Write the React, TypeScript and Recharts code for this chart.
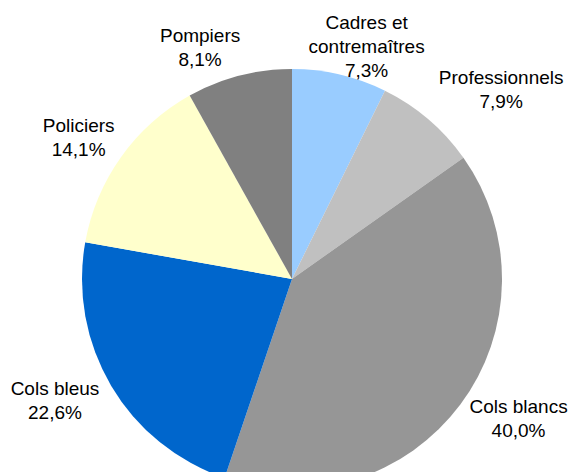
import React from "react";
import { PieChart, Pie, Cell } from "recharts";

// Répartition des effectifs (%)
const categories = [
  "Cadres et\ncontremaîtres",
  "Professionnels",
  "Cols blancs",
  "Cols bleus",
  "Policiers",
  "Pompiers",
];
const shares = [7.3, 7.9, 40.0, 22.6, 14.1, 8.1];
const colors = ["#99CCFF", "#C0C0C0", "#969696", "#0066CC", "#FFFFCC", "#808080"];

// small hand tweaks so labels sit like the original
const labelNudge: Record<string, [number, number]> = {
  "Cadres et\ncontremaîtres": [-3.5, 15],
  Professionnels: [-0.7, -5.3],
  "Cols blancs": [-3.6, -5.8],
  "Cols bleus": [1.8, -2.7],
  Policiers: [10.5, -1.4],
  Pompiers: [-17, 3],
};

const data = categories.map((name, i) => ({ name, value: shares[i] }));

const FONT = 19;
const LINE = 24;
const CAP = 13.6;

const renderLabel = (props: any) => {
  const { cx, cy, midAngle, outerRadius, name, value } = props;
  const rad = (midAngle * Math.PI) / 180;
  const ux = Math.cos(rad);
  const uy = -Math.sin(rad);
  const lines = [...String(name).split("\n"), value.toFixed(1).replace(".", ",") + "%"];
  const w = Math.max(...lines.map((l) => l.length)) * 9.2;
  const h = CAP + LINE * (lines.length - 1);
  const [nx, ny] = labelNudge[name] || [0, 0];
  const x = cx + ux * (outerRadius + 14) + (w / 2) * Math.max(-1, Math.min(1, ux * 2)) + nx;
  const yc = cy + uy * (outerRadius + 14) + (h / 2) * uy + ny;
  const y0 = yc - h / 2 + CAP;
  return (
    <text
      x={x}
      y={y0}
      textAnchor="middle"
      fill="#000"
      fontSize={FONT}
      fontFamily="'Liberation Sans', Arial, sans-serif"
    >
      {lines.map((l, i) => (
        <tspan key={i} x={x} y={y0 + i * LINE}>
          {l}
        </tspan>
      ))}
    </text>
  );
};

export default function App() {
  return (
    <div
      style={{
        position: "absolute",
        left: 0,
        top: 0,
        width: 571,
        height: 472,
        overflow: "hidden",
        background: "#fff",
      }}
    >
      <PieChart width={571} height={472} margin={{ top: 0, right: 0, bottom: 0, left: 0 }}>
        <Pie
          data={data}
          dataKey="value"
          nameKey="name"
          cx={292}
          cy={279}
          outerRadius={210}
          startAngle={90}
          endAngle={-270}
          stroke="none"
          label={renderLabel}
          labelLine={false}
          isAnimationActive={false}
        >
          {data.map((d, i) => (
            <Cell key={d.name} fill={colors[i]} />
          ))}
        </Pie>
      </PieChart>
    </div>
  );
}
